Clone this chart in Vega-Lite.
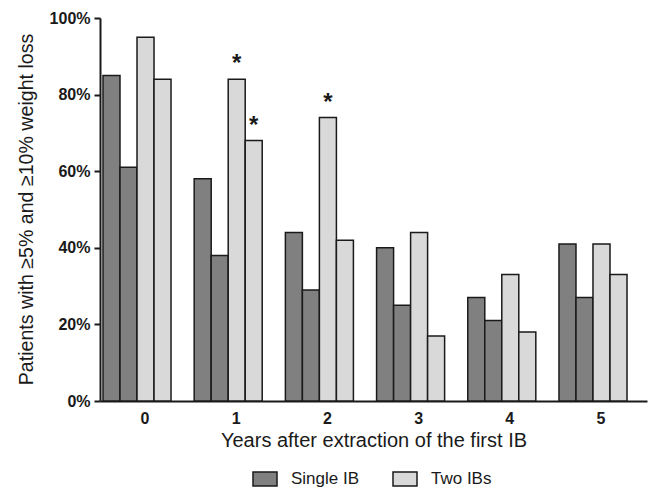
{
  "$schema": "https://vega.github.io/schema/vega-lite/v6.json",
  "width": 547,
  "height": 383,
  "autosize": {"type": "none"},
  "padding": {"left": 100, "top": 18, "right": 2, "bottom": 87},
  "config": {"view": {"stroke": null}, "font": "Liberation Sans"},
  "data": {
    "values": [
      {"year": "0", "series": "S5", "group": "Single IB", "value": 85, "star": ""},
      {"year": "0", "series": "S10", "group": "Single IB", "value": 61, "star": ""},
      {"year": "0", "series": "T5", "group": "Two IBs", "value": 95, "star": ""},
      {"year": "0", "series": "T10", "group": "Two IBs", "value": 84, "star": ""},
      {"year": "1", "series": "S5", "group": "Single IB", "value": 58, "star": ""},
      {"year": "1", "series": "S10", "group": "Single IB", "value": 38, "star": ""},
      {"year": "1", "series": "T5", "group": "Two IBs", "value": 84, "star": "*"},
      {"year": "1", "series": "T10", "group": "Two IBs", "value": 68, "star": "*"},
      {"year": "2", "series": "S5", "group": "Single IB", "value": 44, "star": ""},
      {"year": "2", "series": "S10", "group": "Single IB", "value": 29, "star": ""},
      {"year": "2", "series": "T5", "group": "Two IBs", "value": 74, "star": "*"},
      {"year": "2", "series": "T10", "group": "Two IBs", "value": 42, "star": ""},
      {"year": "3", "series": "S5", "group": "Single IB", "value": 40, "star": ""},
      {"year": "3", "series": "S10", "group": "Single IB", "value": 25, "star": ""},
      {"year": "3", "series": "T5", "group": "Two IBs", "value": 44, "star": ""},
      {"year": "3", "series": "T10", "group": "Two IBs", "value": 17, "star": ""},
      {"year": "4", "series": "S5", "group": "Single IB", "value": 27, "star": ""},
      {"year": "4", "series": "S10", "group": "Single IB", "value": 21, "star": ""},
      {"year": "4", "series": "T5", "group": "Two IBs", "value": 33, "star": ""},
      {"year": "4", "series": "T10", "group": "Two IBs", "value": 18, "star": ""},
      {"year": "5", "series": "S5", "group": "Single IB", "value": 41, "star": ""},
      {"year": "5", "series": "S10", "group": "Single IB", "value": 27, "star": ""},
      {"year": "5", "series": "T5", "group": "Two IBs", "value": 41, "star": ""},
      {"year": "5", "series": "T10", "group": "Two IBs", "value": 33, "star": ""}
    ]
  },
  "encoding": {
    "x": {
      "field": "year",
      "type": "nominal",
      "sort": null,
      "scale": {"paddingInner": 0.254, "paddingOuter": 0.126, "align": 0.13},
      "axis": {
        "labelAngle": 0,
        "labelFontSize": 16,
        "labelFontWeight": "bold",
        "labelColor": "#1a1a1a",
        "labelPadding": 9,
        "labelOffset": 8,
        "ticks": false,
        "domainColor": "#1a1a1a",
        "domainWidth": 2,
        "title": "Years after extraction of the first IB",
        "titleFontSize": 20,
        "titleFontWeight": "normal",
        "titleColor": "#1a1a1a",
        "titlePadding": 4
      }
    },
    "xOffset": {
      "field": "series",
      "type": "nominal",
      "sort": ["S5", "S10", "T5", "T10"],
      "scale": {"paddingInner": 0, "paddingOuter": 0}
    },
    "y": {
      "field": "value",
      "type": "quantitative",
      "scale": {"domain": [0, 100], "nice": false},
      "axis": {
        "values": [0, 20, 40, 60, 80, 100],
        "labelExpr": "datum.value + '%'",
        "grid": false,
        "labelFontSize": 16,
        "labelFontWeight": "bold",
        "labelColor": "#1a1a1a",
        "labelPadding": 4,
        "tickSize": 6,
        "tickWidth": 2,
        "tickColor": "#1a1a1a",
        "domainColor": "#1a1a1a",
        "domainWidth": 2,
        "title": "Patients with ≥5% and ≥10% weight loss",
        "titleFontSize": 19.6,
        "titleFontWeight": "normal",
        "titleColor": "#1a1a1a",
        "titleX": -68,
        "titleY": 191,
        "titleAngle": -90,
        "titleAlign": "center",
        "titleBaseline": "alphabetic"
      }
    }
  },
  "layer": [
    {
      "mark": {"type": "bar", "stroke": "#1a1a1a", "strokeWidth": 1.5},
      "encoding": {
        "color": {
          "field": "group",
          "type": "nominal",
          "scale": {"domain": ["Single IB", "Two IBs"], "range": ["#808080", "#d9d9d9"]},
          "legend": {
            "orient": "none",
            "legendX": 152,
            "legendY": 448,
            "direction": "horizontal",
            "title": null,
            "padding": 0,
            "symbolType": "M-1,-0.58H1V0.58H-1Z",
            "symbolSize": 576,
            "symbolStrokeColor": "#1a1a1a",
            "symbolStrokeWidth": 1.5,
            "symbolOpacity": 1,
            "labelFontSize": 17,
            "labelColor": "#1a1a1a",
            "labelOffset": 13,
            "columnPadding": 30
          }
        }
      }
    },
    {
      "transform": [{"filter": "datum.star == '*'"}],
      "mark": {"type": "text", "fontSize": 24, "fontWeight": "bold", "baseline": "alphabetic", "dy": -8, "color": "#1a1a1a"},
      "encoding": {"text": {"field": "star"}}
    }
  ]
}
